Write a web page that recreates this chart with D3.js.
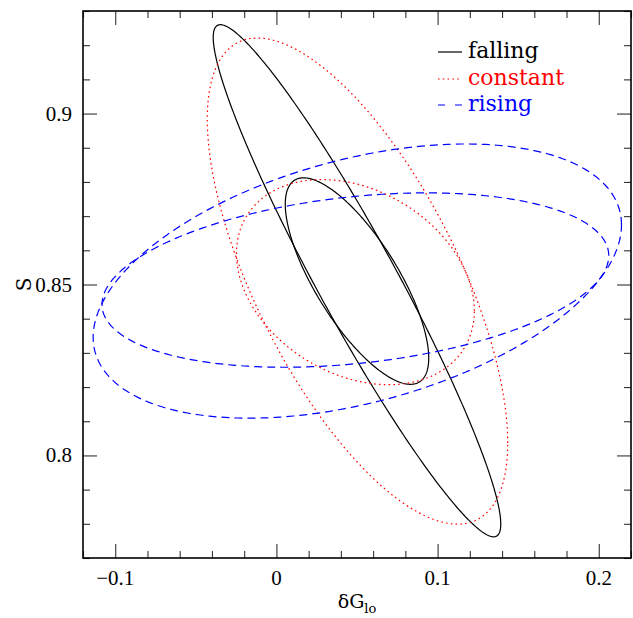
<!DOCTYPE html>
<html>
<head>
<meta charset="utf-8">
<script src="https://cdn.jsdelivr.net/npm/d3@7"></script>
<style>
  body { margin: 0; background: #fff; }
  text { font-family: "DejaVu Serif", serif; }
  text.num { font-family: "Liberation Serif", serif; }
</style>
</head>
<body>
<div id="chart"></div>
<script>
// contour groups (legend order)
var groups = ['falling', 'constant', 'rising'];
var groupColors = ['#000000', '#ff0000', '#0000ff'];
var groupDash = ['none', '1.6,3.2', '8,5'];
var legendDash = ['none', '1.6,3.2', '7,10'];

// each contour = ellipse (data units)
var contourGroup = ['falling', 'falling', 'constant', 'constant', 'rising', 'rising'];
var centerX    = [0.0500, 0.0500, 0.0503, 0.0490, 0.0502, 0.0490];
var centerY    = [0.8511, 0.8510, 0.8510, 0.8507, 0.8510, 0.8513];
var halfWidth  = [0.0892, 0.0445, 0.0932, 0.0738, 0.1639, 0.1572];
var halfHeight = [0.0749, 0.0302, 0.0711, 0.0300, 0.0401, 0.0255];
var corr       = [-0.950, -0.745, -0.666, -0.280, 0.410, 0.280];

// ticks
var xMajor = [-0.1, 0, 0.1, 0.2];
var xLabels = ['\u22120.1', '0', '0.1', '0.2'];
var yMajor = [0.8, 0.85, 0.9];
var yLabels = ['0.8', '0.85', '0.9'];

var svgWidth = 633;
var svgHeight = 618;
var margin = { top: 11, right: 2, bottom: 60, left: 83 };
var width = svgWidth - margin.left - margin.right;
var height = svgHeight - margin.top - margin.bottom;

var svg = d3.select('#chart').append('svg')
  .attr('width', svgWidth)
  .attr('height', svgHeight);

var chartGroup = svg.append('g')
  .attr('transform', `translate(${margin.left}, ${margin.top})`);

var x = d3.scaleLinear().domain([-0.12, 0.22]).range([0, width]);
var y = d3.scaleLinear().domain([0.77, 0.93]).range([height, 0]);

// minor ticks
var xMinor = d3.range(-12, 23, 2).map(d => d / 100).filter(d => xMajor.indexOf(Math.round(d * 100) / 100) < 0);
var yMinor = d3.range(77, 94, 1).map(d => d / 100).filter(d => yMajor.indexOf(Math.round(d * 100) / 100) < 0);

function tickAxis(axisFn, scale, values, size) {
  return axisFn(scale).tickValues(values).tickSize(size).tickFormat('');
}

// bottom + top
chartGroup.append('g').attr('transform', `translate(0, ${height})`).call(tickAxis(d3.axisTop, x, xMajor, 14));
chartGroup.append('g').attr('transform', `translate(0, ${height})`).call(tickAxis(d3.axisTop, x, xMinor, 7));
chartGroup.append('g').call(tickAxis(d3.axisBottom, x, xMajor, 14));
chartGroup.append('g').call(tickAxis(d3.axisBottom, x, xMinor, 7));
// left + right
chartGroup.append('g').call(tickAxis(d3.axisRight, y, yMajor, 14));
chartGroup.append('g').call(tickAxis(d3.axisRight, y, yMinor, 7));
chartGroup.append('g').attr('transform', `translate(${width}, 0)`).call(tickAxis(d3.axisLeft, y, yMajor, 14));
chartGroup.append('g').attr('transform', `translate(${width}, 0)`).call(tickAxis(d3.axisLeft, y, yMinor, 7));

chartGroup.selectAll('.domain').remove();
chartGroup.selectAll('.tick line').attr('stroke', '#333').attr('stroke-width', 1.1);

// frame
chartGroup.append('rect')
  .attr('width', width).attr('height', height)
  .attr('fill', 'none').attr('stroke', '#000').attr('stroke-width', 1.6);

// tick labels
chartGroup.selectAll('.xlab')
  .data(xMajor)
  .enter()
  .append('text')
  .classed('num', true)
  .attr('x', d => x(d))
  .attr('y', height + 27)
  .attr('text-anchor', 'middle')
  .attr('font-size', '21px')
  .text((d, i) => xLabels[i]);

chartGroup.selectAll('.ylab')
  .data(yMajor)
  .enter()
  .append('text')
  .classed('num', true)
  .attr('x', -11)
  .attr('y', d => y(d) + 7)
  .attr('text-anchor', 'end')
  .attr('font-size', '21px')
  .text((d, i) => yLabels[i]);

// axis titles
var xTitle = chartGroup.append('text')
  .attr('x', x(0.05))
  .attr('y', height + 50)
  .attr('text-anchor', 'middle')
  .attr('font-size', '19px');
xTitle.append('tspan').text('\u03b4G');
xTitle.append('tspan').attr('dy', 5).attr('font-size', '13px').text('lo');

chartGroup.append('text')
  .attr('transform', `translate(${-52}, ${y(0.85)}) rotate(-90)`)
  .attr('text-anchor', 'middle')
  .attr('font-size', '20px')
  .text('S');

// contours
var line = d3.line().x(d => x(d[0])).y(d => y(d[1])).curve(d3.curveLinearClosed);
var steps = d3.range(0, 360, 1).map(d => d * Math.PI / 180);

contourGroup.forEach(function(g, i) {
  var phi = Math.acos(corr[i]);
  var pts = steps.map(t => [centerX[i] + halfWidth[i] * Math.cos(t),
                            centerY[i] + halfHeight[i] * Math.cos(t - phi)]);
  var k = groups.indexOf(g);
  chartGroup.append('path')
    .attr('d', line(pts))
    .attr('fill', 'none')
    .attr('stroke', groupColors[k])
    .attr('stroke-width', 1.2)
    .attr('stroke-dasharray', groupDash[k]);
});

// legend
var legend = chartGroup.append('g').attr('transform', `translate(${438 - margin.left}, ${52 - margin.top})`);
groups.forEach(function(g, i) {
  var row = legend.append('g').attr('transform', `translate(0, ${[0, 27, 53][i]})`);
  row.append('line')
    .attr('x1', 0).attr('x2', 24)
    .attr('stroke', groupColors[i])
    .attr('stroke-width', 1.2)
    .attr('stroke-dasharray', legendDash[i]);
  row.append('text')
    .attr('x', 30).attr('y', 6)
    .attr('font-size', '22px')
    .attr('fill', groupColors[i])
    .text(g);
});
</script>
</body>
</html>
